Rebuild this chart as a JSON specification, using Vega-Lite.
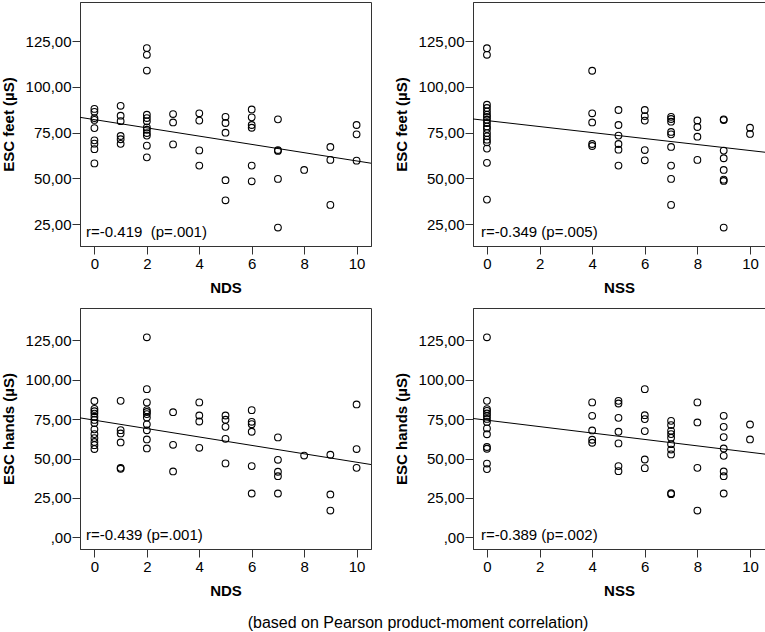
{
  "$schema": "https://vega.github.io/schema/vega-lite/v6.json",
  "padding": {"left": 0, "top": 1, "right": 1, "bottom": 2},
  "background": "white",
  "config": {
    "view": {"stroke": "#333333", "strokeWidth": 1},
    "axis": {"grid": false, "domainColor": "#333333", "tickColor": "#333333", "labelColor": "black", "titleColor": "black", "labelFont": "Liberation Sans", "titleFont": "Liberation Sans", "labelFontSize": 15, "titleFontSize": 15, "titleFontWeight": "bold", "tickSize": 8},
    "axisX": {"labelPadding": 2, "titlePadding": 9},
    "axisY": {"labelPadding": 1, "titlePadding": 9},
    "font": "Liberation Sans"
  },
  "title": {"text": "(based on Pearson product-moment correlation)", "orient": "bottom", "fontSize": 16, "fontWeight": "normal", "font": "Liberation Sans", "color": "black", "anchor": "middle", "offset": 16, "dx": 35},
  "spacing": 11,
  "datasets": {
    "feetNDS": [
      {"x":0,"y":88.0},{"x":0,"y":86.4},{"x":0,"y":83.0},{"x":0,"y":82.0},{"x":0,"y":77.5},{"x":0,"y":70.8},{"x":0,"y":69.0},{"x":0,"y":66.0},{"x":0,"y":58.2},
      {"x":1,"y":89.7},{"x":1,"y":84.3},{"x":1,"y":81.3},{"x":1,"y":73.2},{"x":1,"y":71.4},{"x":1,"y":68.9},
      {"x":2,"y":121.3},{"x":2,"y":117.6},{"x":2,"y":109.0},{"x":2,"y":84.8},{"x":2,"y":83.0},{"x":2,"y":81.2},{"x":2,"y":77.9},{"x":2,"y":76.6},{"x":2,"y":74.8},{"x":2,"y":73.4},{"x":2,"y":67.9},{"x":2,"y":61.5},
      {"x":3,"y":85.2},{"x":3,"y":80.6},{"x":3,"y":68.6},
      {"x":4,"y":85.6},{"x":4,"y":81.6},{"x":4,"y":65.3},{"x":4,"y":57.0},
      {"x":5,"y":83.7},{"x":5,"y":80.3},{"x":5,"y":75.0},{"x":5,"y":49.0},{"x":5,"y":38.0},
      {"x":6,"y":87.7},{"x":6,"y":83.4},{"x":6,"y":79.2},{"x":6,"y":77.7},{"x":6,"y":57.0},{"x":6,"y":48.4},
      {"x":7,"y":82.3},{"x":7,"y":65.5},{"x":7,"y":65.0},{"x":7,"y":49.7},{"x":7,"y":23.1},
      {"x":8,"y":54.6},
      {"x":9,"y":67.2},{"x":9,"y":60.1},{"x":9,"y":35.5},
      {"x":10,"y":79.2},{"x":10,"y":74.1},{"x":10,"y":59.7}
    ],
    "feetNSS": [
      {"x":0,"y":121.2},{"x":0,"y":117.6},{"x":0,"y":90.3},{"x":0,"y":88.5},{"x":0,"y":86.6},{"x":0,"y":84.8},{"x":0,"y":83.6},{"x":0,"y":82.1},{"x":0,"y":80.3},{"x":0,"y":78.4},{"x":0,"y":77.0},{"x":0,"y":74.8},{"x":0,"y":73.0},{"x":0,"y":71.2},{"x":0,"y":69.7},{"x":0,"y":66.3},{"x":0,"y":58.5},{"x":0,"y":38.4},
      {"x":4,"y":108.9},{"x":4,"y":85.6},{"x":4,"y":80.6},{"x":4,"y":68.8},{"x":4,"y":67.7},
      {"x":5,"y":87.4},{"x":5,"y":79.2},{"x":5,"y":73.4},{"x":5,"y":68.8},{"x":5,"y":65.7},{"x":5,"y":57.0},
      {"x":6,"y":87.4},{"x":6,"y":84.1},{"x":6,"y":81.6},{"x":6,"y":65.5},{"x":6,"y":59.9},
      {"x":7,"y":83.7},{"x":7,"y":82.5},{"x":7,"y":81.0},{"x":7,"y":75.4},{"x":7,"y":74.1},{"x":7,"y":67.2},{"x":7,"y":57.0},{"x":7,"y":49.7},{"x":7,"y":35.5},
      {"x":8,"y":81.7},{"x":8,"y":78.1},{"x":8,"y":72.8},{"x":8,"y":60.1},
      {"x":9,"y":82.3},{"x":9,"y":81.9},{"x":9,"y":65.2},{"x":9,"y":61.0},{"x":9,"y":54.6},{"x":9,"y":49.3},{"x":9,"y":48.6},{"x":9,"y":23.1},
      {"x":10,"y":77.7},{"x":10,"y":74.3}
    ],
    "handsNDS": [
      {"x":0,"y":86.5},{"x":0,"y":81.5},{"x":0,"y":80.0},{"x":0,"y":78.5},{"x":0,"y":76.5},{"x":0,"y":74.5},{"x":0,"y":72.5},{"x":0,"y":68.5},{"x":0,"y":65.5},{"x":0,"y":63.0},{"x":0,"y":60.5},{"x":0,"y":58.5},{"x":0,"y":56.0},
      {"x":1,"y":86.6},{"x":1,"y":68.0},{"x":1,"y":65.9},{"x":1,"y":60.2},{"x":1,"y":44.1},{"x":1,"y":43.5},
      {"x":2,"y":126.9},{"x":2,"y":94.0},{"x":2,"y":85.6},{"x":2,"y":80.7},{"x":2,"y":79.5},{"x":2,"y":78.2},{"x":2,"y":76.0},{"x":2,"y":71.7},{"x":2,"y":67.9},{"x":2,"y":62.1},{"x":2,"y":56.4},
      {"x":3,"y":79.4},{"x":3,"y":58.7},{"x":3,"y":41.8},
      {"x":4,"y":85.6},{"x":4,"y":77.3},{"x":4,"y":73.5},{"x":4,"y":56.8},
      {"x":5,"y":77.3},{"x":5,"y":74.6},{"x":5,"y":70.1},{"x":5,"y":62.5},{"x":5,"y":46.9},
      {"x":6,"y":80.7},{"x":6,"y":73.3},{"x":6,"y":71.8},{"x":6,"y":67.0},{"x":6,"y":45.2},{"x":6,"y":27.8},
      {"x":7,"y":63.4},{"x":7,"y":49.2},{"x":7,"y":41.6},{"x":7,"y":38.8},{"x":7,"y":27.8},
      {"x":8,"y":51.9},
      {"x":9,"y":52.4},{"x":9,"y":27.2},{"x":9,"y":17.0},
      {"x":10,"y":84.3},{"x":10,"y":56.0},{"x":10,"y":44.1}
    ],
    "handsNSS": [
      {"x":0,"y":126.9},{"x":0,"y":86.6},{"x":0,"y":81.4},{"x":0,"y":80.2},{"x":0,"y":78.6},{"x":0,"y":77.0},{"x":0,"y":75.1},{"x":0,"y":73.2},{"x":0,"y":69.1},{"x":0,"y":65.4},{"x":0,"y":57.3},{"x":0,"y":56.2},{"x":0,"y":46.8},{"x":0,"y":43.3},
      {"x":4,"y":85.6},{"x":4,"y":77.1},{"x":4,"y":67.8},{"x":4,"y":61.9},{"x":4,"y":60.0},
      {"x":5,"y":86.6},{"x":5,"y":84.9},{"x":5,"y":75.8},{"x":5,"y":67.0},{"x":5,"y":59.6},{"x":5,"y":45.2},{"x":5,"y":42.0},
      {"x":6,"y":94.0},{"x":6,"y":77.5},{"x":6,"y":75.0},{"x":6,"y":67.4},{"x":6,"y":49.4},{"x":6,"y":43.9},
      {"x":7,"y":73.9},{"x":7,"y":71.2},{"x":7,"y":67.6},{"x":7,"y":65.5},{"x":7,"y":63.2},{"x":7,"y":59.1},{"x":7,"y":55.7},{"x":7,"y":52.6},{"x":7,"y":28.0},{"x":7,"y":27.4},
      {"x":8,"y":85.6},{"x":8,"y":72.9},{"x":8,"y":44.1},{"x":8,"y":17.0},
      {"x":9,"y":77.1},{"x":9,"y":70.1},{"x":9,"y":63.6},{"x":9,"y":56.4},{"x":9,"y":51.7},{"x":9,"y":41.8},{"x":9,"y":38.8},{"x":9,"y":27.8},
      {"x":10,"y":71.6},{"x":10,"y":62.1}
    ],
    "lineFeetNDS": [{"x":-0.55,"y":83.4},{"x":10.55,"y":58.3}],
    "lineFeetNSS": [{"x":-0.53,"y":82.5},{"x":10.57,"y":64.3}],
    "lineHandsNDS": [{"x":-0.55,"y":75.8},{"x":10.55,"y":46.2}],
    "lineHandsNSS": [{"x":-0.53,"y":75.4},{"x":10.57,"y":52.8}],
    "labFeetNDS": [{"x":-0.32,"y":20.8,"label":"r=-0.419\u00a0 (p=.001)"}],
    "labFeetNSS": [{"x":-0.23,"y":20.8,"label":"r=-0.349 (p=.005)"}],
    "labHandsNDS": [{"x":-0.32,"y":1.3,"label":"r=-0.439 (p=.001)"}],
    "labHandsNSS": [{"x":-0.23,"y":1.3,"label":"r=-0.389 (p=.002)"}]
  },
  "vconcat": [
    {
      "spacing": 21,
      "hconcat": [
        {
          "width": 291, "height": 244,
          "encoding": {
            "x": {"field": "x", "type": "quantitative", "scale": {"domain": [-0.55, 10.55], "nice": false, "zero": false}, "axis": {"title": "NDS", "values": [0,2,4,6,8,10], "format": "d"}},
            "y": {"field": "y", "type": "quantitative", "scale": {"domain": [13, 146.5], "nice": false, "zero": false}, "axis": {"title": "ESC feet (µS)", "values": [25,50,75,100,125], "labelExpr": "datum.value == 0 ? ',00' : replace(format(datum.value, '.2f'), '.', ',')"}}
          },
          "layer": [
            {"data": {"name": "feetNDS"}, "mark": {"type": "point", "shape": "circle", "filled": false, "stroke": "black", "strokeWidth": 1.1, "size": 45, "opacity": 1}},
            {"data": {"name": "lineFeetNDS"}, "mark": {"type": "line", "color": "black", "strokeWidth": 1, "clip": true}},
            {"data": {"name": "labFeetNDS"}, "mark": {"type": "text", "align": "left", "baseline": "middle", "fontSize": 15, "font": "Liberation Sans", "color": "black"}, "encoding": {"text": {"field": "label"}}}
          ]
        },
        {
          "width": 292, "height": 244,
          "encoding": {
            "x": {"field": "x", "type": "quantitative", "scale": {"domain": [-0.53, 10.57], "nice": false, "zero": false}, "axis": {"title": "NSS", "values": [0,2,4,6,8,10], "format": "d"}},
            "y": {"field": "y", "type": "quantitative", "scale": {"domain": [13, 146.5], "nice": false, "zero": false}, "axis": {"title": "ESC feet (µS)", "values": [25,50,75,100,125], "labelExpr": "datum.value == 0 ? ',00' : replace(format(datum.value, '.2f'), '.', ',')"}}
          },
          "layer": [
            {"data": {"name": "feetNSS"}, "mark": {"type": "point", "shape": "circle", "filled": false, "stroke": "black", "strokeWidth": 1.1, "size": 45, "opacity": 1}},
            {"data": {"name": "lineFeetNSS"}, "mark": {"type": "line", "color": "black", "strokeWidth": 1, "clip": true}},
            {"data": {"name": "labFeetNSS"}, "mark": {"type": "text", "align": "left", "baseline": "middle", "fontSize": 15, "font": "Liberation Sans", "color": "black"}, "encoding": {"text": {"field": "label"}}}
          ]
        }
      ]
    },
    {
      "spacing": 21,
      "hconcat": [
        {
          "width": 291, "height": 241,
          "encoding": {
            "x": {"field": "x", "type": "quantitative", "scale": {"domain": [-0.55, 10.55], "nice": false, "zero": false}, "axis": {"title": "NDS", "values": [0,2,4,6,8,10], "format": "d"}},
            "y": {"field": "y", "type": "quantitative", "scale": {"domain": [-7.4, 145.5], "nice": false, "zero": false}, "axis": {"title": "ESC hands (µS)", "values": [0,25,50,75,100,125], "labelExpr": "datum.value == 0 ? ',00' : replace(format(datum.value, '.2f'), '.', ',')"}}
          },
          "layer": [
            {"data": {"name": "handsNDS"}, "mark": {"type": "point", "shape": "circle", "filled": false, "stroke": "black", "strokeWidth": 1.1, "size": 45, "opacity": 1}},
            {"data": {"name": "lineHandsNDS"}, "mark": {"type": "line", "color": "black", "strokeWidth": 1, "clip": true}},
            {"data": {"name": "labHandsNDS"}, "mark": {"type": "text", "align": "left", "baseline": "middle", "fontSize": 15, "font": "Liberation Sans", "color": "black"}, "encoding": {"text": {"field": "label"}}}
          ]
        },
        {
          "width": 292, "height": 241,
          "encoding": {
            "x": {"field": "x", "type": "quantitative", "scale": {"domain": [-0.53, 10.57], "nice": false, "zero": false}, "axis": {"title": "NSS", "values": [0,2,4,6,8,10], "format": "d"}},
            "y": {"field": "y", "type": "quantitative", "scale": {"domain": [-7.4, 145.5], "nice": false, "zero": false}, "axis": {"title": "ESC hands (µS)", "values": [0,25,50,75,100,125], "labelExpr": "datum.value == 0 ? ',00' : replace(format(datum.value, '.2f'), '.', ',')"}}
          },
          "layer": [
            {"data": {"name": "handsNSS"}, "mark": {"type": "point", "shape": "circle", "filled": false, "stroke": "black", "strokeWidth": 1.1, "size": 45, "opacity": 1}},
            {"data": {"name": "lineHandsNSS"}, "mark": {"type": "line", "color": "black", "strokeWidth": 1, "clip": true}},
            {"data": {"name": "labHandsNSS"}, "mark": {"type": "text", "align": "left", "baseline": "middle", "fontSize": 15, "font": "Liberation Sans", "color": "black"}, "encoding": {"text": {"field": "label"}}}
          ]
        }
      ]
    }
  ]
}
